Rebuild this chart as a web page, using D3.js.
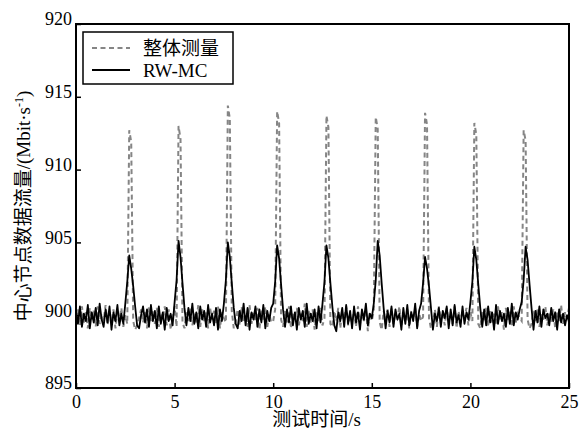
<!DOCTYPE html>
<html>
<head>
<meta charset="utf-8">
<script src="https://cdn.jsdelivr.net/npm/d3@7"></script>
<style>
  body { margin: 0; background: #fff; }
  text { font-family: "Liberation Serif", "Times New Roman", "Noto Sans CJK SC", serif; fill: #000; }
</style>
</head>
<body>
<div id="chart"></div>
<script>
var width = 587, height = 430;
var margin = {top: 24, right: 18, bottom: 42, left: 76};

// sample times, 0.1 s apart
var times = d3.range(0, 251).map(function(i) { return i / 10; });

// 整体测量 (dashed)
var wholeMeasure = [
  899.8, 900.4, 899.3, 900.6, 899.5, 900.2, 899.1, 900.5, 899.7, 900.3,
  899.2, 900.6, 899.4, 900.1, 899.6, 900.7, 899.3, 900.2, 899.5, 900.4,
  899.1, 900.3, 899.7, 900.5, 899.2, 900.0, 899.4, 912.7, 911.9, 899.6,
  899.0, 899.3, 899.8, 900.4, 899.5, 900.2, 899.1, 900.6, 899.6, 900.3,
  899.4, 900.5, 899.2, 900.1, 899.7, 900.6, 899.3, 900.4, 899.0, 899.8,
  900.6, 899.2, 913.0, 912.1, 899.5, 899.1, 900.2, 899.6, 900.5, 899.3,
  900.1, 899.5, 900.7, 899.2, 900.4, 899.6, 900.2, 899.1, 900.5, 899.7,
  900.3, 899.4, 900.6, 899.1, 900.2, 899.8, 899.5, 914.4, 913.5, 900.3,
  899.1, 899.6, 900.4, 899.3, 900.6, 899.5, 900.1, 899.2, 900.7, 899.4,
  900.2, 899.6, 900.5, 899.0, 900.3, 899.7, 900.6, 899.2, 900.1, 899.5,
  899.6, 900.4, 914.0, 913.2, 899.7, 899.2, 900.3, 899.5, 900.6, 899.1,
  900.2, 899.7, 900.5, 899.3, 900.1, 899.6, 900.8, 899.2, 900.3, 899.5,
  900.4, 899.0, 900.2, 899.6, 900.5, 899.3, 899.8, 913.7, 912.9, 899.4,
  899.2, 900.3, 899.6, 900.5, 899.1, 900.2, 899.7, 900.6, 899.3, 900.0,
  899.5, 900.3, 899.2, 900.6, 899.4, 900.1, 899.6, 900.4, 898.9, 900.2,
  899.6, 900.3, 913.6, 912.8, 899.5, 899.0, 900.3, 899.7, 900.4, 899.2,
  900.5, 899.4, 900.1, 899.8, 900.6, 899.3, 900.2, 899.5, 900.4, 899.1,
  900.3, 899.7, 900.5, 899.2, 900.1, 899.6, 899.9, 913.9, 913.1, 899.8,
  899.1, 899.5, 900.4, 899.2, 900.6, 899.7, 900.2, 899.3, 900.5, 899.6,
  900.1, 899.4, 900.6, 899.1, 900.3, 899.5, 900.2, 899.8, 900.5, 899.3,
  900.2, 899.6, 913.2, 912.4, 899.4, 899.1, 900.3, 899.6, 900.5, 899.2,
  900.4, 899.5, 900.1, 899.3, 900.6, 899.7, 900.2, 899.0, 900.5, 899.6,
  900.3, 899.2, 900.6, 899.5, 900.1, 899.8, 899.6, 912.7, 912.0, 899.7,
  899.1, 899.4, 900.3, 899.6, 900.5, 899.2, 900.1, 899.7, 900.6, 899.3,
  900.2, 899.5, 900.4, 899.1, 900.3, 899.6, 900.7, 899.4, 900.2, 899.8,
  900.5
];

// RW-MC (solid)
var rwmc = [
  900.3, 899.4, 900.6, 899.2, 900.1, 899.6, 900.7, 899.1, 900.2, 899.5,
  900.5, 899.3, 900.8, 899.7, 899.2, 900.4, 899.5, 900.6, 899.0, 900.2,
  899.6, 900.7, 899.3, 900.1, 899.4, 900.8, 902.3, 904.1, 903.2, 902.0,
  900.6, 899.3, 899.1, 900.0, 900.6, 899.5, 900.4, 899.2, 900.7, 899.6,
  900.3, 899.1, 900.6, 899.4, 900.2, 899.0, 900.5, 899.6, 900.1, 899.3,
  900.9, 902.4, 905.1, 904.0, 902.2, 900.5, 899.3, 900.5, 899.6, 900.8,
  899.4, 900.2, 899.1, 900.6, 899.7, 900.3, 899.2, 900.7, 899.5, 900.1,
  899.3, 900.5, 899.0, 900.4, 899.6, 900.8, 902.4, 905.0, 904.0, 902.2,
  900.5, 899.4, 899.1, 900.3, 899.6, 900.8, 899.3, 900.5, 899.0, 900.2,
  899.7, 900.6, 899.2, 900.4, 899.5, 900.7, 899.1, 900.3, 899.6, 900.5,
  900.8, 902.3, 904.8, 903.9, 902.1, 900.4, 899.2, 900.4, 899.5, 900.6,
  899.3, 900.2, 899.0, 900.5, 899.7, 900.3, 899.2, 900.8, 899.4, 900.1,
  899.6, 900.4, 899.1, 900.6, 899.5, 900.8, 902.3, 904.8, 903.9, 902.2,
  900.6, 899.3, 898.9, 900.2, 899.6, 900.5, 899.2, 900.7, 899.4, 900.3,
  899.1, 900.6, 899.5, 900.2, 899.0, 900.4, 899.7, 900.8, 899.3, 900.1,
  899.8, 900.8, 902.4, 905.1, 904.1, 902.2, 900.5, 899.1, 900.3, 899.5,
  900.6, 899.2, 900.4, 899.7, 900.1, 899.0, 900.5, 899.4, 900.7, 899.3,
  900.2, 899.6, 900.8, 899.1, 900.3, 900.8, 902.2, 904.0, 903.2, 902.0,
  900.5, 899.0, 900.1, 899.6, 900.5, 899.2, 900.3, 899.8, 900.6, 899.1,
  900.4, 899.3, 900.7, 899.5, 900.0, 899.2, 900.6, 899.4, 900.2, 899.7,
  900.9, 902.3, 904.7, 903.8, 902.1, 900.5, 899.2, 900.4, 899.3, 900.6,
  899.5, 900.2, 899.0, 900.7, 899.4, 900.3, 899.6, 900.1, 899.2, 900.5,
  899.4, 900.8, 899.3, 900.2, 899.7, 900.4, 900.9, 902.4, 904.7, 903.8,
  902.1, 900.5, 899.0, 900.3, 899.5, 900.6, 899.2, 900.4, 899.8, 900.1,
  899.3, 900.5, 899.6, 900.2, 899.0, 900.4, 899.5, 900.1, 899.3, 900.0,
  899.6
];

var xTicks = [0, 5, 10, 15, 20, 25];
var yTicks = [895, 900, 905, 910, 915, 920];

var svg = d3.select("#chart")
    .append("svg")
        .attr("width", width)
        .attr("height", height);

var x = d3.scaleLinear().domain([0, 25]).range([margin.left, width - margin.right]);
var y = d3.scaleLinear().domain([895, 920]).range([height - margin.bottom, margin.top]);

var line = d3.line()
    .x(function(d) { return x(d[0]); })
    .y(function(d) { return y(d[1]); });

// dashed series under the solid one
svg.append("path")
    .datum(times.map(function(t, i) { return [t, wholeMeasure[i]]; }))
    .attr("fill", "none")
    .attr("stroke", "#858585")
    .attr("stroke-width", 2)
    .attr("stroke-dasharray", "5,3.5")
    .attr("d", line);

svg.append("path")
    .datum(times.map(function(t, i) { return [t, rwmc[i]]; }))
    .attr("fill", "none")
    .attr("stroke", "#000")
    .attr("stroke-width", 1.8)
    .attr("stroke-linejoin", "round")
    .attr("d", line);

// axes, ticks pointing inward
var xAxis = svg.append("g")
    .attr("transform", "translate(0," + y(895) + ")")
    .call(d3.axisBottom(x).tickValues(xTicks).tickSize(-5).tickPadding(7).tickFormat(d3.format("d")));

var yAxis = svg.append("g")
    .attr("transform", "translate(" + x(0) + ",0)")
    .call(d3.axisLeft(y).tickValues(yTicks).tickSize(-5).tickPadding(4).tickFormat(d3.format("d")));

[xAxis, yAxis].forEach(function(g) {
    g.select(".domain").remove();
    g.selectAll(".tick line").attr("stroke", "#000").attr("stroke-width", 1.5);
    g.selectAll(".tick text").attr("font-size", 18).attr("font-family", "Liberation Serif, serif");
});
xAxis.selectAll(".tick text").attr("dy", "0.71em");
yAxis.selectAll(".tick text").attr("dy", "0.05em");

// frame
svg.append("rect")
    .attr("x", x(0))
    .attr("y", y(920))
    .attr("width", x(25) - x(0))
    .attr("height", y(895) - y(920))
    .attr("fill", "none")
    .attr("stroke", "#000")
    .attr("stroke-width", 2);

// axis titles
svg.append("text")
    .attr("x", (x(0) + x(25)) / 2 - 6)
    .attr("y", 426)
    .attr("text-anchor", "middle")
    .attr("font-size", 19)
    .text("测试时间/s");

var yTitle = svg.append("text")
    .attr("transform", "translate(30," + ((y(895) + y(920)) / 2) + ") rotate(-90)")
    .attr("text-anchor", "middle")
    .attr("font-size", 19);
yTitle.append("tspan").text("中心节点数据流量/(Mbit·s");
yTitle.append("tspan").attr("font-size", 12).attr("dy", -7).text("-1");
yTitle.append("tspan").attr("dy", 7).text(")");

// legend
var legend = svg.append("g");
legend.append("rect")
    .attr("x", 83).attr("y", 32)
    .attr("width", 150).attr("height", 52)
    .attr("fill", "#fff")
    .attr("stroke", "#000")
    .attr("stroke-width", 1.5);

var legendItems = [
    {label: "整体测量", stroke: "#858585", dash: "5,3.5", width: 2, cy: 48},
    {label: "RW-MC", stroke: "#000", dash: null, width: 1.8, cy: 70}
];

legendItems.forEach(function(d) {
    legend.append("line")
        .attr("x1", 92).attr("x2", 130)
        .attr("y1", d.cy).attr("y2", d.cy)
        .attr("stroke", d.stroke)
        .attr("stroke-width", d.width)
        .attr("stroke-dasharray", d.dash);
    legend.append("text")
        .attr("x", 143)
        .attr("y", d.cy + 6.5)
        .attr("font-size", 19)
        .text(d.label);
});
</script>
</body>
</html>
